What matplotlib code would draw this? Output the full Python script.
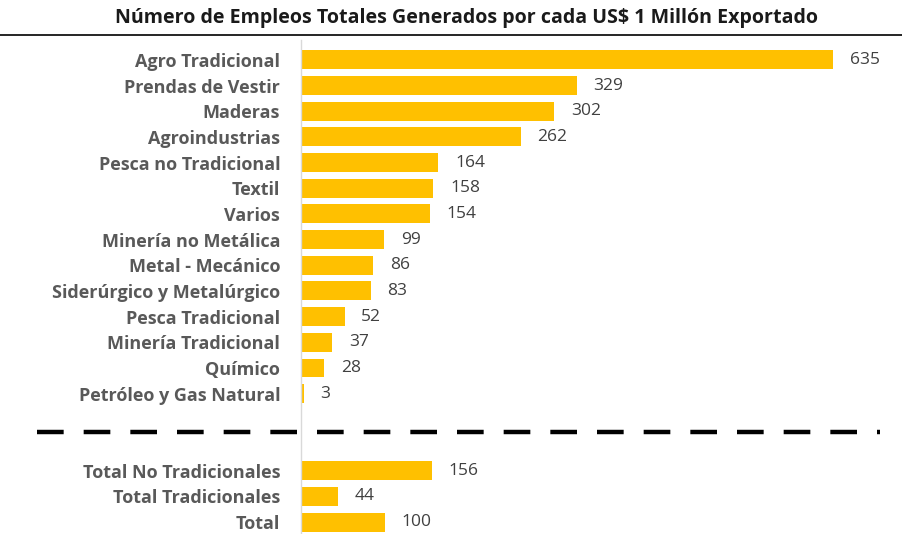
import matplotlib
matplotlib.use("Agg")
import matplotlib.pyplot as plt
from matplotlib.lines import Line2D

categories = ["Agro Tradicional", "Prendas de Vestir", "Maderas", "Agroindustrias",
              "Pesca no Tradicional", "Textil", "Varios", "Minería no Metálica",
              "Metal - Mecánico", "Siderúrgico y Metalúrgico", "Pesca Tradicional",
              "Minería Tradicional", "Químico", "Petróleo y Gas Natural"]
values = [635, 329, 302, 262, 164, 158, 154, 99, 86, 83, 52, 37, 28, 3]
total_categories = ["Total No Tradicionales", "Total Tradicionales", "Total"]
total_values = [156, 44, 100]
title = "Número de Empleos Totales Generados por cada US$ 1 Millón Exportado"

plt.rcParams['font.family'] = ['Open Sans', 'DejaVu Sans']

W, H = 903, 534
fig = plt.figure(figsize=(W / 100, H / 100), dpi=100)
fig.patch.set_facecolor("white")

ax_left, ax_top, ax_bottom = 301, 40, 534
ax = fig.add_axes([ax_left / W, 0, (W - ax_left) / W, (ax_bottom - ax_top) / H])

labels = categories + ["", ""] + total_categories
vals = values + [None, None] + total_values
pos = list(range(len(labels)))
bar_color = "#FFC000"
for p, v in zip(pos, vals):
    if v is None:
        continue
    ax.barh(p, v, height=0.74, color=bar_color, edgecolor="none")
    ax.text(v + 20, p, f"{v}", va="center", ha="left", fontsize=12.5, color="#404040")

px_per_unit = (833 - 301) / 635
ax.set_xlim(0, (W - ax_left) / px_per_unit)
row = 25.7
ax.set_ylim(18 + (ax_bottom - 522) / row, -(60 - ax_top) / row)
ax.set_yticks([p for p, l in zip(pos, labels) if l])
ax.set_yticklabels([l for l in labels if l], fontsize=13, fontweight="bold", color="#595959")
ax.tick_params(axis="y", length=0, pad=15)
ax.set_xticks([])
for s in ["top", "right", "bottom"]:
    ax.spines[s].set_visible(False)
ax.spines["left"].set_color("#d9d9d9")
ax.spines["left"].set_linewidth(1)

# dashed separator
y_dash = 1 - 432 / H
fig.add_artist(Line2D([37 / W, 880 / W], [y_dash, y_dash], color="black", lw=3.2,
                      linestyle=(0, (6, 4.5)), transform=fig.transFigure))
# title underline
y_line = 1 - 35 / H
fig.add_artist(Line2D([0, 1], [y_line, y_line], color="black", lw=1.2,
                      transform=fig.transFigure))
fig.text(467 / W, 1 - 18 / H, title, ha="center", va="center", fontsize=14.1,
         fontweight="bold", color="#1a1a1a")

fig.savefig("out.png", dpi=100, facecolor="white")
